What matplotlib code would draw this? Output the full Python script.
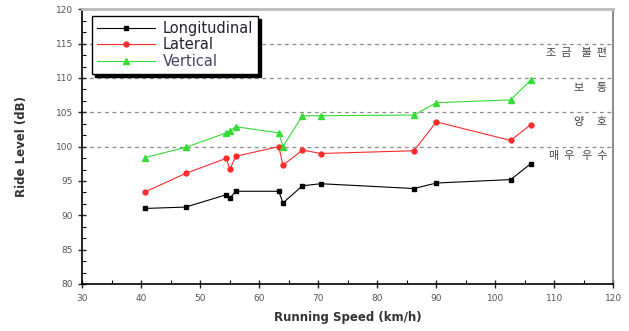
import matplotlib
matplotlib.use("Agg")
import matplotlib.pyplot as plt
from matplotlib.ticker import MultipleLocator, AutoMinorLocator

# running speed (km/h) shared by all three series
speed = [40.6, 47.5, 54.4, 55.0, 56.0, 63.3, 64.0, 67.3, 70.4, 86.2, 90.0, 102.6, 106.0]

longitudinal = [91.0, 91.2, 93.0, 92.5, 93.5, 93.5, 91.8, 94.3, 94.6, 93.9, 94.7, 95.2, 97.5]
lateral = [93.4, 96.1, 98.3, 96.7, 98.6, 100.0, 97.3, 99.5, 99.0, 99.4, 103.6, 100.9, 103.2]
vertical = [98.4, 99.9, 102.0, 102.3, 102.9, 102.0, 100.0, 104.5, 104.5, 104.6, 106.4, 106.8, 109.7]

# comfort limits and the Korean ratings written below each one
limits = [115, 110, 105, 100]
ratings = ["조  금    불  편", "보     통", "양     호", "매  우   우  수"]

fig = plt.figure(figsize=(6.29, 3.31), dpi=100)
ax = fig.add_axes([0.131, 0.142, 0.844, 0.830])

for lim in limits:
    ax.axhline(lim, color="#8a8a8a", lw=0.9, ls=(0, (3, 3)), zorder=1)

ax.plot(speed, longitudinal, color="black", lw=0.8, marker="s", ms=3.5,
        label="Longitudinal", zorder=3)
ax.plot(speed, lateral, color="#ff2a2a", lw=0.8, marker="o", ms=3.5,
        label="Lateral", zorder=3)
ax.plot(speed, vertical, color="#33dd33", lw=0.8, marker="^", ms=4,
        label="Vertical", zorder=3)

for lim, txt in zip(limits, ratings):
    ax.text(119.0, lim - 1.4, txt, ha="right", va="center", fontsize=8,
            color="#444444", family=["Noto Sans CJK KR", "DejaVu Sans"])

ax.set_xlim(30, 120)
ax.set_ylim(80, 120)
ax.xaxis.set_major_locator(MultipleLocator(10))
ax.xaxis.set_minor_locator(AutoMinorLocator(2))
ax.yaxis.set_major_locator(MultipleLocator(5))
ax.yaxis.set_minor_locator(AutoMinorLocator(3))
ax.tick_params(which="major", direction="inout", length=6, width=1,
               labelsize=6.5, colors="#222222", labelcolor="#555555")
ax.tick_params(which="minor", direction="in", length=3, width=0.8)
ax.tick_params(axis="x", pad=4)

ax.spines["left"].set_linewidth(1.2)
ax.spines["bottom"].set_linewidth(1.2)
ax.spines["top"].set_color("#bbbbbb")
ax.spines["top"].set_linewidth(2)
ax.spines["right"].set_color("#777777")
ax.spines["right"].set_linewidth(1.2)

ax.set_xlabel("Running Speed (km/h)", fontsize=8.5, fontweight="bold",
              color="#333333", labelpad=6)
ax.set_ylabel("Ride Level (dB)", fontsize=8.5, fontweight="bold",
              color="#333333", labelpad=20)

leg = ax.legend(loc="upper left", bbox_to_anchor=(0.018, 0.976), borderaxespad=0,
                fontsize=10.5, handlelength=4.0, handletextpad=0.5,
                labelspacing=0.1, borderpad=0.35, fancybox=False,
                shadow={"color": "black", "alpha": 1.0})
leg.get_frame().set_edgecolor("black")
leg.get_frame().set_linewidth(1.0)
for t, c in zip(leg.get_texts(), ["#222233", "#222233", "#444466"]):
    t.set_color(c)

fig.savefig("out.png", dpi=100)
